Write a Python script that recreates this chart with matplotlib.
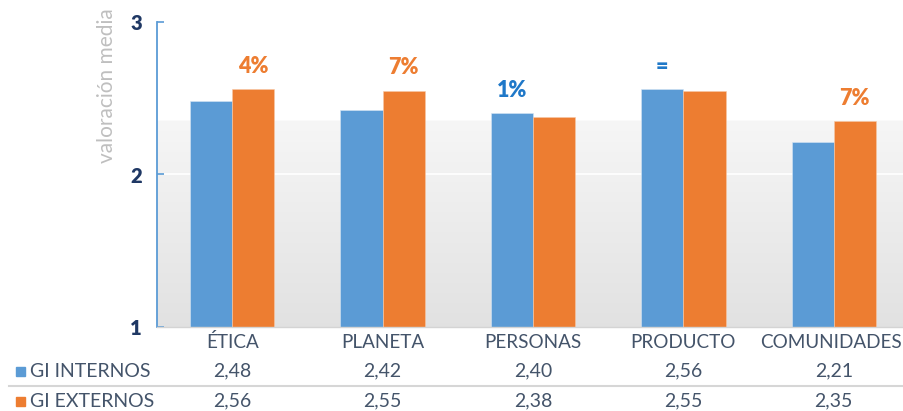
import numpy as np
import matplotlib
matplotlib.use("Agg")
import matplotlib.pyplot as plt
import matplotlib.transforms as mtransforms

plt.rcParams['font.family'] = ['Lato', 'DejaVu Sans']

categories = ['ÉTICA', 'PLANETA', 'PERSONAS', 'PRODUCTO', 'COMUNIDADES']
internos = [2.48, 2.42, 2.40, 2.56, 2.21]
externos = [2.56, 2.55, 2.38, 2.55, 2.35]
series_names = ['GI INTERNOS', 'GI EXTERNOS']
labels_int = ['2,48', '2,42', '2,40', '2,56', '2,21']
labels_ext = ['2,56', '2,55', '2,38', '2,55', '2,35']
annot_text = ['4%', '7%', '1%', '=', '7%']
annot_series = ['ext', 'ext', 'int', 'int', 'ext']
yticks = [1, 2, 3]

BLUE = '#5b9bd5'
ORANGE = '#ed7d31'
ANN_BLUE = '#1f78c8'
TXT = '#44546a'
NAVY = '#1f3864'

W, H = 904, 411
fig = plt.figure(figsize=(W / 100, H / 100), dpi=100)
ax = fig.add_axes([157 / W, 1 - 327 / H, 752 / W, (327 - 22) / H])

x = np.arange(len(categories))
bw = 0.28

# background gradient
vals = np.linspace(3, 1, 400)
g = np.where(vals > 2.35, 1.0, 0.965 - (2.35 - vals) / 1.35 * 0.08)
img = np.repeat(g[:, None, None], 3, axis=2)
ax.imshow(img, extent=(-0.5, 4.5, 1, 3), aspect='auto', zorder=0, interpolation='bilinear')
ax.axhline(2, color='white', lw=1.2, zorder=1)

ax.bar(x - bw / 2, np.array(internos) - 1, bw, bottom=1, color=BLUE, zorder=2,
       edgecolor='#d6e6f5', linewidth=0.4)
ax.bar(x + bw / 2, np.array(externos) - 1, bw, bottom=1, color=ORANGE, zorder=2,
       edgecolor='#f7c9a8', linewidth=0.4)

for i, (t, s) in enumerate(zip(annot_text, annot_series)):
    if s == 'int':
        xx, yy, c = x[i] - bw / 2, internos[i], ANN_BLUE
    else:
        xx, yy, c = x[i] + bw / 2, externos[i], ORANGE
    ax.annotate(t, (xx, yy), xytext=(0, 16.5), textcoords='offset points',
                ha='center', va='center', color=c, fontsize=15.5, fontweight='heavy')

ax.set_xlim(-0.5, 4.5)
ax.set_ylim(1, 3)
ax.set_yticks(yticks)
ax.set_yticklabels([str(v) for v in yticks], fontsize=14.5, fontweight='heavy', color=NAVY)
ax.set_xticks([])
ax.tick_params(axis='y', direction='in', length=5, width=1.2, color=BLUE, pad=11)
for sp in ['top', 'right']:
    ax.spines[sp].set_visible(False)
ax.spines['left'].set_color(BLUE)
ax.spines['left'].set_linewidth(1.3)
ax.spines['bottom'].set_color('#d4d4d4')
ax.spines['bottom'].set_linewidth(1.0)

ax.set_ylabel('valoración media', fontsize=15, color='#bfbfbf')
ax.yaxis.set_label_coords(-40 / 752, 0.79)

# data table
trans = mtransforms.blended_transform_factory(ax.transData, fig.transFigure)
ycat = 1 - 342 / H
yr1 = 1 - 371 / H
yr2 = 1 - 401 / H
fs = 14
for i, c in enumerate(categories):
    fig.text(x[i] - (0.02 if i == 4 else 0), ycat, c, transform=trans, ha='center', va='center',
             fontsize=13.6, color=TXT)
    fig.text(x[i], yr1, labels_int[i], transform=trans, ha='center', va='center', fontsize=fs, color=TXT)
    fig.text(x[i], yr2, labels_ext[i], transform=trans, ha='center', va='center', fontsize=fs, color=TXT)

for yy, name, col in [(yr1, series_names[0], BLUE), (yr2, series_names[1], ORANGE)]:
    fig.patches.append(plt.Rectangle((16 / W, yy - 4.5 / H), 9 / W, 9 / H,
                                     transform=fig.transFigure, color=col))
    fig.text(30 / W, yy, name, ha='left', va='center', fontsize=fs, color=TXT)

fig.add_artist(plt.Line2D([9 / W, 1], [1 - 386 / H, 1 - 386 / H], transform=fig.transFigure,
                          color='#d6d6d6', lw=1.5))

fig.savefig('out.png', dpi=100)
